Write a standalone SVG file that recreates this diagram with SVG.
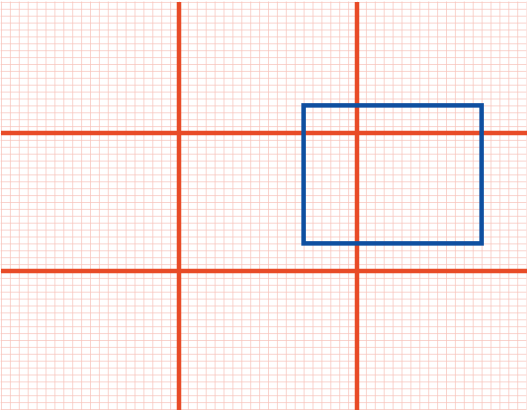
<svg xmlns="http://www.w3.org/2000/svg" width="528" height="414" viewBox="0 0 528 414">
  <style>
    .fine { stroke: #f6c2ba; stroke-width: 0.8; fill: none; }
    .major { stroke: #e84b27; stroke-width: 4.5; fill: none; }
    .frame { stroke: #0e4fa0; stroke-width: 4.5; fill: none; }
  </style>
  <defs>
    <pattern id="grid" patternUnits="userSpaceOnUse" x="1" y="1.9" width="8.9" height="6.9">
      <path class="fine" d="M0.4 0 V6.9 M0 0.4 H8.9"/>
    </pattern>
  </defs>
  <rect width="528" height="414" fill="#ffffff"/>
  <g id="fine-grid">
    <rect x="0.6" y="1.5" width="526" height="408.5" fill="url(#grid)"/>
  </g>
  <g id="major-grid">
    <path class="major" d="M179 1.9 V409.9 M357 1.9 V409.9 M1 133 H527 M1 271 H527"/>
  </g>
  <g id="frame">
    <rect class="frame" x="303.6" y="105.4" width="178" height="138"/>
  </g>
</svg>
